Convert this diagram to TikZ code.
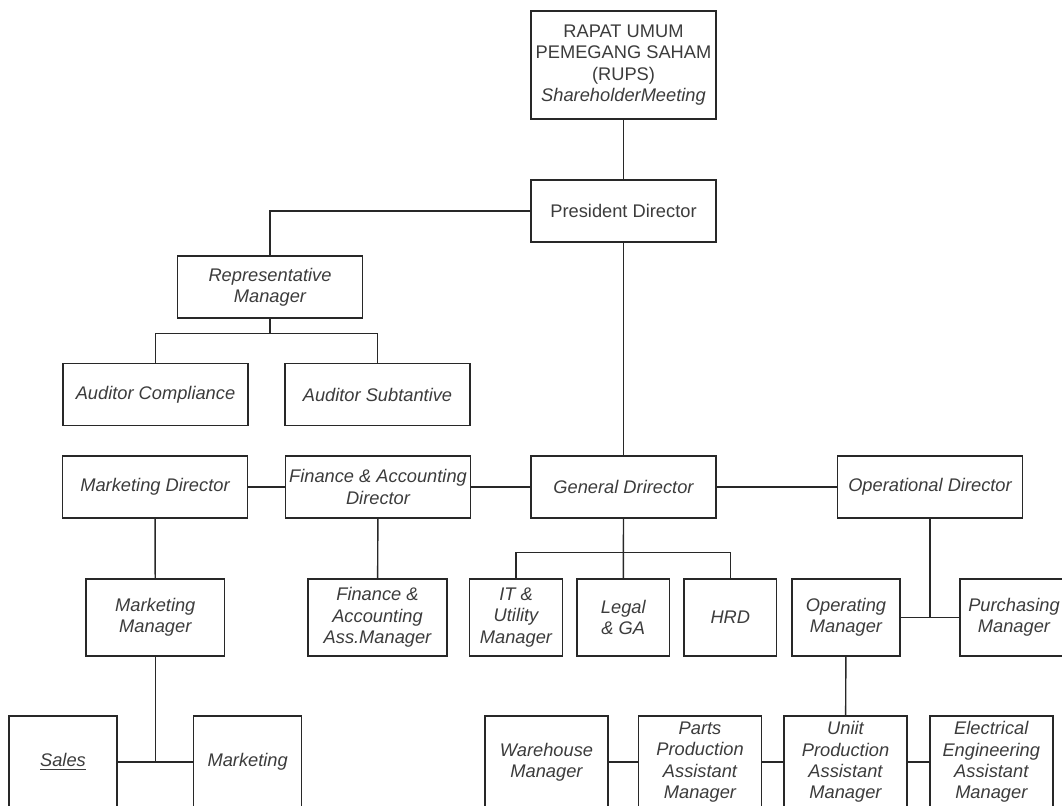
\documentclass[tikz,border=0pt]{standalone}
\usepackage{fontspec}
\setmainfont{Liberation Sans}
\usepackage{tikz}
\usetikzlibrary{calc}
\definecolor{garis}{RGB}{40,40,40}
\definecolor{tulisan}{RGB}{60,60,60}
\newcommand{\orgfont}{\fontsize{10.4}{12.2}\selectfont}

\begin{document}
\begin{tikzpicture}[x=0.02cm, y=-0.02cm, line width=0.8pt, garis,
	orgbox/.style={draw=garis, fill=white, inner sep=0pt, align=center, text=tulisan, font=\orgfont\itshape},
	lebar/.style={orgbox, minimum width=3.7cm, minimum height=1.24cm},
	sedang/.style={orgbox, minimum width=2.78cm, minimum height=1.54cm},
	kecil/.style={orgbox, minimum width=1.85cm, minimum height=1.54cm},
	bawah/.style={orgbox, minimum width=2.46cm, minimum height=1.84cm}]

	\useasboundingbox (0,0) rectangle (1062,805);

	% top
	\node[lebar, minimum height=2.16cm, font=\orgfont] (rups) at (623.5,65) {RAPAT UMUM\\PEMEGANG SAHAM\\(RUPS)\\\textit{ShareholderMeeting}};
	\node[lebar, font=\orgfont] (pres) at (623.5,211) {President Director};
	\node[lebar] (rep) at (270,287) {Representative\\Manager};
	\node[lebar] (audc) at (155.5,394.5) {Auditor Compliance};
	\node[lebar] (auds) at (377.5,394.5) {Auditor Subtantive};

	% directors
	\node[lebar] (mktd) at (155,487) {Marketing Director};
	\node[lebar] (fad) at (378,487) {Finance \& Accounting\\Director};
	\node[lebar] (gend) at (623.5,487) {General Drirector};
	\node[lebar] (opd) at (930,487) {Operational Director};

	% managers
	\node[sedang] (mktm) at (155.3,617.5) {Marketing\\Manager};
	\node[sedang] (faam) at (377.5,617.5) {Finance \&\\Accounting\\Ass.Manager};
	\node[kecil] (it) at (516,617.5) {IT \&\\Utility\\Manager};
	\node[kecil] (legal) at (623.3,617.5) {Legal\\\& GA};
	\node[kecil] (hrd) at (730.3,617.5) {HRD};
	\node[kecil, minimum width=2.16cm] (opm) at (846,617.5) {Operating\\Manager};
	\node[kecil, minimum width=2.16cm] (purch) at (1014,617.5) {Purchasing\\Manager};

	% bottom row
	\node[bawah, minimum width=2.16cm] (sales) at (63,762) {\underline{Sales}};
	\node[bawah, minimum width=2.16cm] (mkt) at (247.7,762) {Marketing};
	\node[bawah] (wh) at (546.5,762) {Warehouse\\Manager};
	\node[bawah] (parts) at (700,762) {Parts\\Production\\Assistant\\Manager};
	\node[bawah] (unit) at (845.5,762) {Uniit\\Production\\Assistant\\Manager};
	\node[bawah] (elec) at (991.3,762) {Electrical\\Engineering\\Assistant\\Manager};

	% lines
	\draw (rups) -- (pres);
	\draw (pres.west) -| (rep.north);
	\draw (pres) -- (gend);
	\draw (rep.south) -- ++(0,15) -| (audc.north);
	\draw (rep.south) -- ++(0,15) -| (auds.north);

	\draw (mktd) -- (fad);
	\draw (fad) -- (gend);
	\draw (gend) -- (opd);
	\draw (mktd) -- (mktm);
	\draw (fad) -- (faam);

	\draw (gend.south) -- ++(0,34) -| (it.north);
	\draw (gend.south) -- ++(0,34) -| (hrd.north);
	\draw (gend.south) -- (legal.north);

	\draw (opd.south) -- (opd.south |- opm.east);
	\draw (opm) -- (purch);
	\draw (opm) -- (unit);

	\draw (mktm.south) -- (mktm.south |- sales.east);
	\draw (sales) -- (mkt);
	\draw (wh) -- (parts);
	\draw (parts) -- (unit);
	\draw (unit) -- (elec);

\end{tikzpicture}
\end{document}
